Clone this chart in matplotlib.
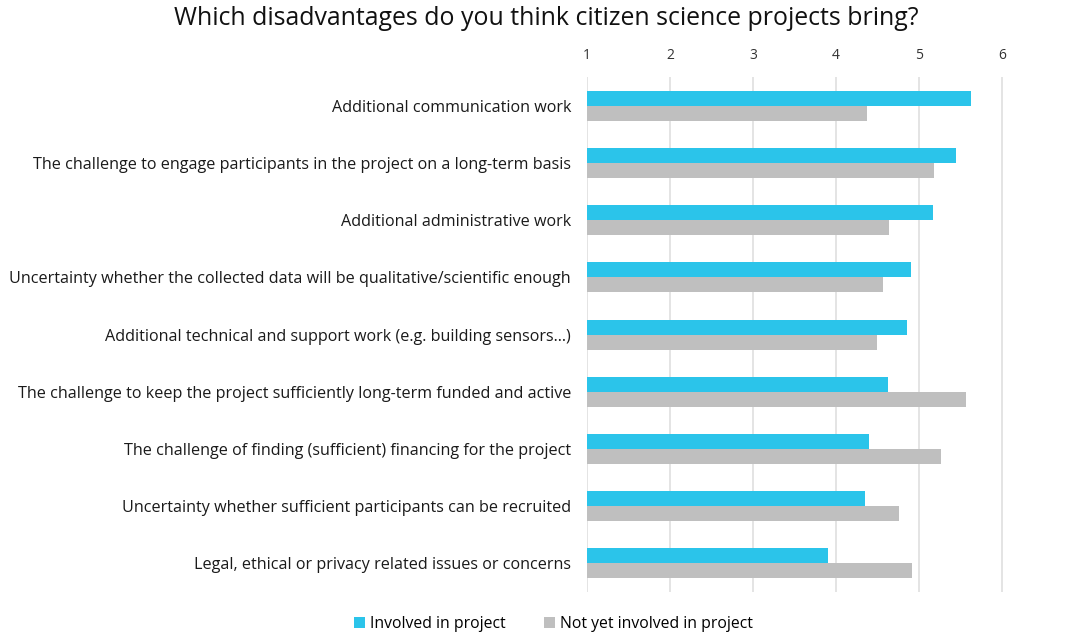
import matplotlib
matplotlib.use("Agg")
import matplotlib.pyplot as plt
import numpy as np

plt.rcParams['font.family'] = ['Open Sans', 'DejaVu Sans']

categories = [
    "Additional communication work",
    "The challenge to engage participants in the project on a long-term basis",
    "Additional administrative work",
    "Uncertainty whether the collected data will be qualitative/scientific enough",
    "Additional technical and support work (e.g. building sensors...)",
    "The challenge to keep the project sufficiently long-term funded and active",
    "The challenge of finding (sufficient) financing for the project",
    "Uncertainty whether sufficient participants can be recruited",
    "Legal, ethical or privacy related issues or concerns",
]
involved = [5.62, 5.44, 5.17, 4.90, 4.85, 4.63, 4.40, 4.35, 3.90]
not_involved = [4.37, 5.18, 4.64, 4.57, 4.49, 5.57, 5.26, 4.76, 4.91]
ticks = [1, 2, 3, 4, 5, 6]

blue = "#2BC4EA"
gray = "#BFBFBF"

fig = plt.figure(figsize=(10.81, 6.33), dpi=100)
ax = fig.add_axes([0.543, 0.065, 0.457, 0.813])

y = np.arange(len(categories))
h = 0.262
ax.barh(y - h / 2, np.array(involved) - 1, left=1, height=h, color=blue,
        label="Involved in project", zorder=3)
ax.barh(y + h / 2, np.array(not_involved) - 1, left=1, height=h, color=gray,
        label="Not yet involved in project", zorder=3)

ax.set_ylim(len(categories) - 0.5, -0.5)
ax.set_xlim(1, 6.95)
ax.set_xticks(ticks)
ax.set_yticks(y)
ax.set_yticklabels(categories, fontsize=11.6, color="#1a1a1a")
ax.xaxis.tick_top()
ax.tick_params(axis='x', length=0, pad=10, labelsize=10, labelcolor="#333333")
ax.tick_params(axis='y', length=0, pad=11.5)
ax.grid(axis='x', color="#DDDDDD", linewidth=1.1, zorder=0)
for s in ax.spines.values():
    s.set_visible(False)

fig.suptitle("Which disadvantages do you think citizen science projects bring?",
             x=0.505, y=0.99, fontsize=17.9, color="#111111")

fig.legend(loc="lower center", bbox_to_anchor=(0.512, -0.02), ncol=2,
           frameon=False, fontsize=11.3, handlelength=0.7, handleheight=0.7,
           handletextpad=0.3, columnspacing=2.5)

fig.savefig("out.png", dpi=100)
